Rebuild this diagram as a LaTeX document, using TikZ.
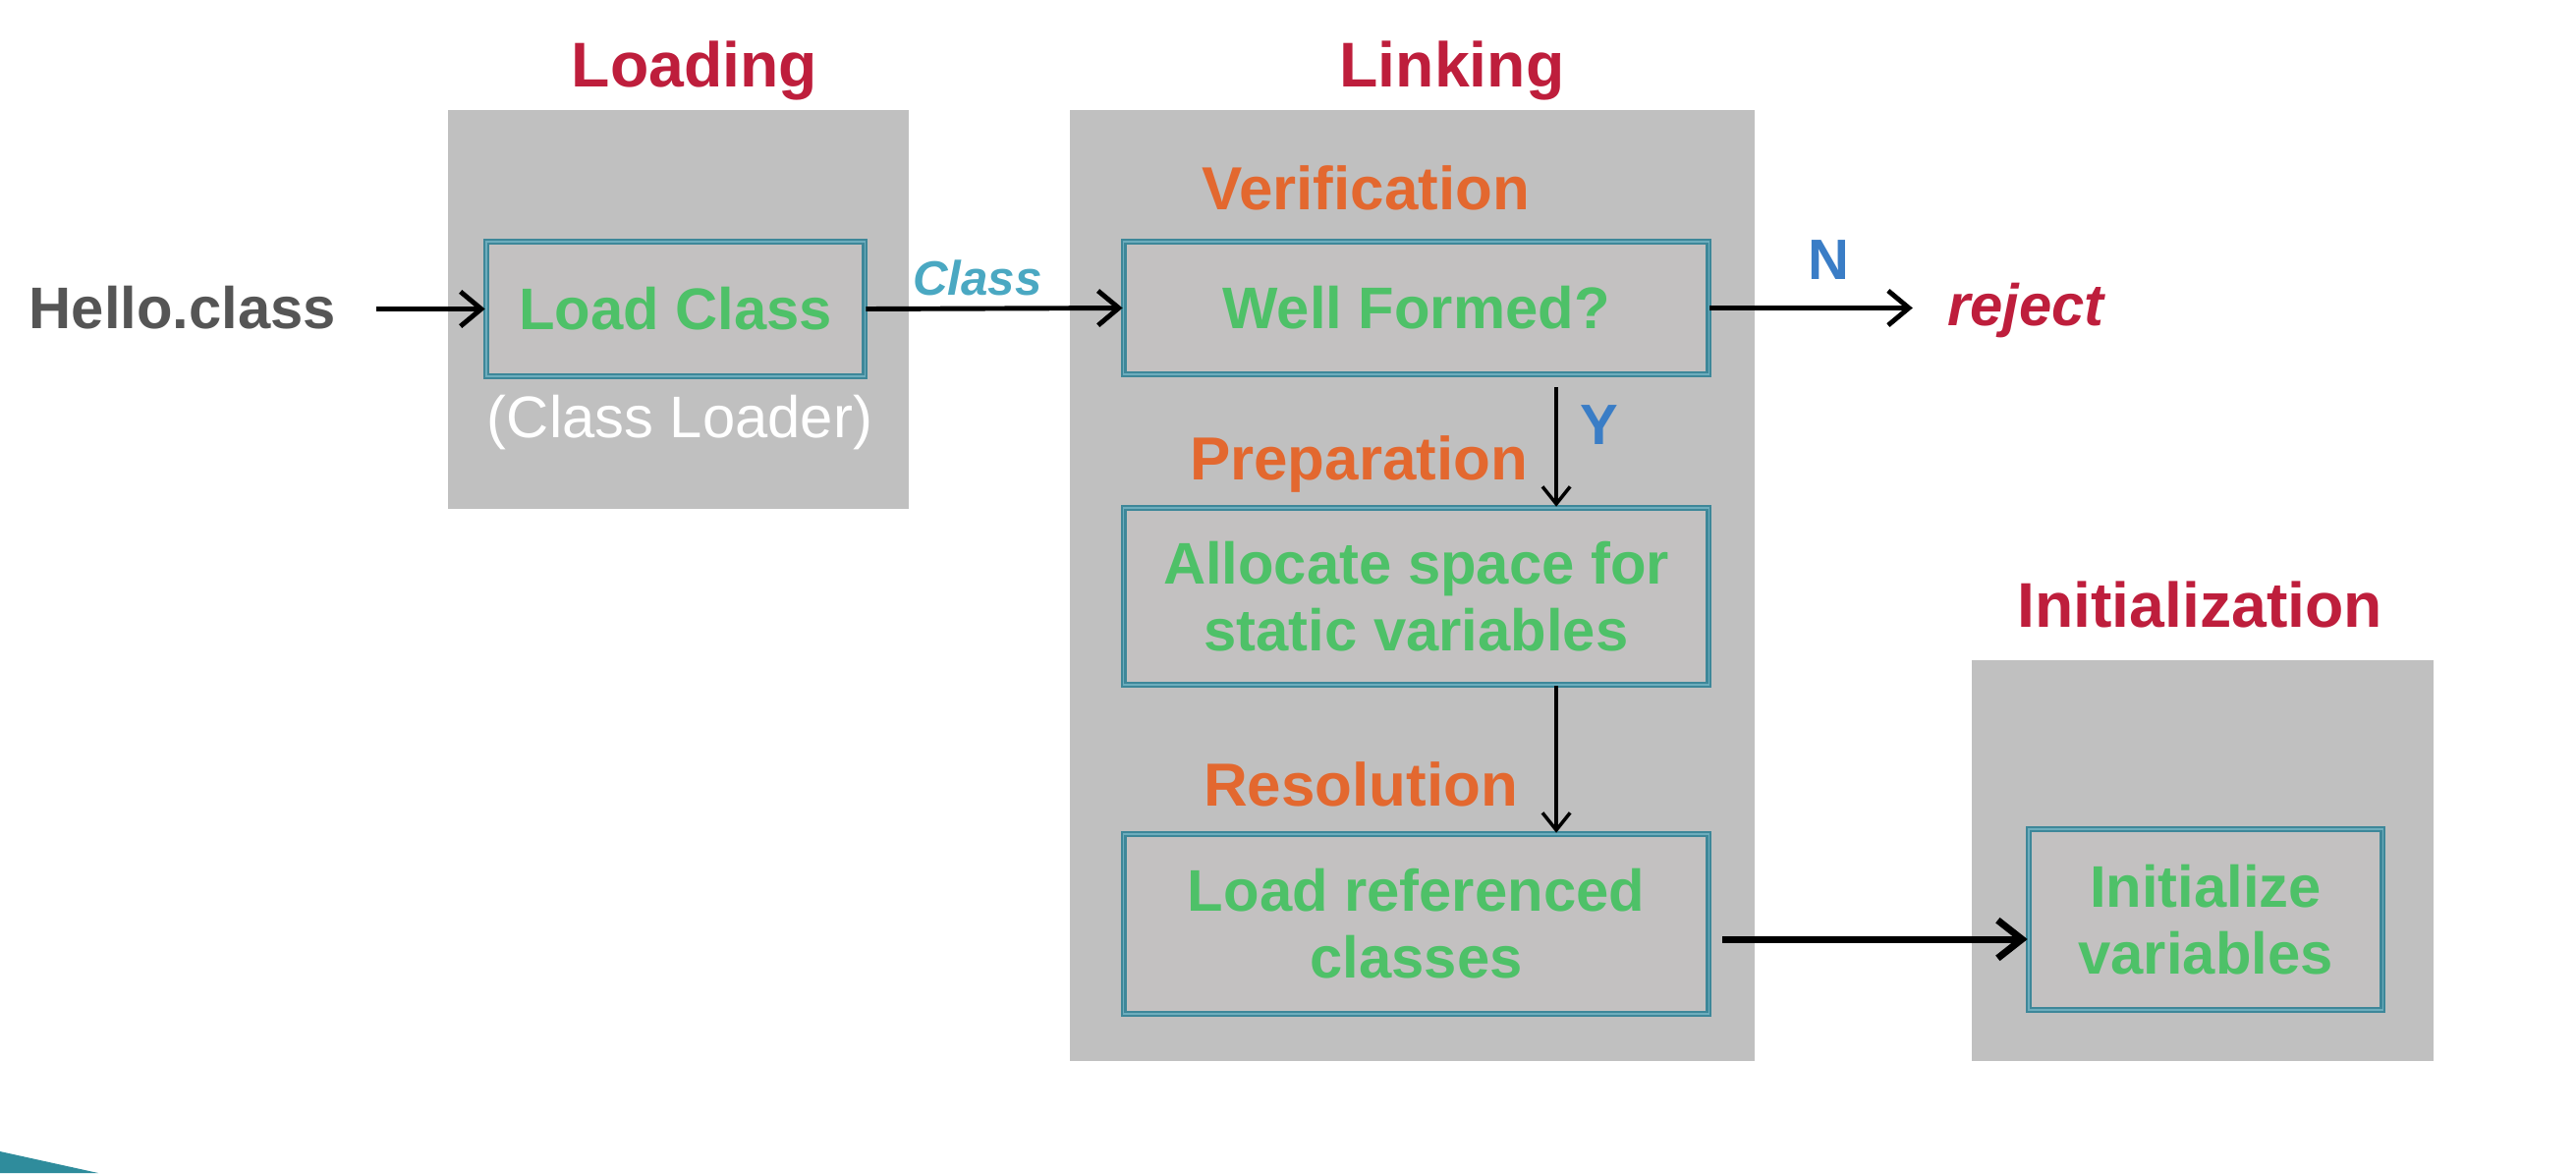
\documentclass[tikz,border=0pt]{standalone}
\usepackage{fontspec}
\setmainfont{Liberation Sans}
\usetikzlibrary{arrows.meta}
\definecolor{grayfill}{HTML}{C0C0C0}
\definecolor{boxfill}{HTML}{C3C1C1}
\definecolor{boxedge}{HTML}{3D8799}
\definecolor{boxinner}{HTML}{6DADBD}
\definecolor{titlered}{HTML}{BE1E3C}
\definecolor{stageorange}{HTML}{E3682F}
\definecolor{boxgreen}{HTML}{4EC168}
\definecolor{ynblue}{HTML}{3A7DC6}
\definecolor{classteal}{HTML}{4AA8C2}
\definecolor{hellogray}{HTML}{555555}
\definecolor{decoteal}{HTML}{2F8C9C}
\begin{document}
\begin{tikzpicture}[x=0.01cm,y=-0.01cm,
  panel/.style={fill=grayfill, draw=none, inner sep=0pt},
  stepbox/.style={fill=boxfill, draw=boxedge, double=boxinner, line width=0.7pt,
    double distance=0.35pt, text=boxgreen, align=center, inner sep=0pt,
    font=\fontsize{17}{19.4}\selectfont\bfseries},
  title/.style={text=titlered, anchor=base, font=\fontsize{18.3}{21}\selectfont\bfseries},
  stage/.style={text=stageorange, anchor=base, font=\fontsize{17.6}{20}\selectfont\bfseries},
  yn/.style={text=ynblue, anchor=base, font=\fontsize{16.5}{19}\selectfont\bfseries},
  flow/.style={-{Straight Barb[length=6pt,width=10pt,line width=1.4pt]}, line width=1.4pt},
  vflow/.style={-{Straight Barb[length=5pt,width=8pt,line width=1pt]}, line width=1pt},
  thickflow/.style={-{Straight Barb[length=7pt,width=11pt,line width=2pt]}, line width=2pt},
]
\useasboundingbox (0,0) rectangle (2622,1194);
\fill[white] (0,0) rectangle (2622,1194);

% panels
\node[panel, minimum width=4.69cm, minimum height=4.06cm] (loadpanel) at (690.5,315) {};
\node[panel, minimum width=6.97cm, minimum height=9.68cm] (linkpanel) at (1437.5,596) {};
\node[panel, minimum width=4.70cm, minimum height=4.08cm] (initpanel) at (2242,876) {};

% titles
\node[title] (loadtitle) at (707,89) {Loading};
\node[title] (linktitle) at (1478,89) {Linking};
\node[title] (inittitle) at (2239,638) {Initialization};

% stage labels
\node[stage] (verif) at (1390,213) {Verification};
\node[stage] (prep) at (1383,488) {Preparation};
\node[stage] (resol) at (1385,820) {Resolution};

% boxes
\node[stepbox, minimum width=3.85cm, minimum height=1.37cm] (loadclass) at (687.5,314.5) {Load Class};
\node[stepbox, minimum width=5.95cm, minimum height=1.35cm] (wellformed) at (1441.5,313.5) {Well Formed?};
\node[stepbox, minimum width=5.95cm, minimum height=1.80cm] (allocate) at (1441.5,607) {Allocate space for\\static variables};
\node[stepbox, minimum width=5.95cm, minimum height=1.83cm] (loadref) at (1441.5,940.5) {Load referenced\\classes};
\node[stepbox, minimum width=3.60cm, minimum height=1.84cm] (initvars) at (2245,936) {Initialize\\variables};

% other texts
\node[anchor=base, text=white, font=\fontsize{17}{19}\selectfont] (classloader) at (692,445) {(Class Loader)};
\node[anchor=base, text=hellogray, font=\fontsize{17}{19}\selectfont\bfseries] (hello) at (186,334) {Hello.class};
\node[anchor=base, text=classteal, font=\fontsize{14}{16}\selectfont\bfseries\itshape] (classlbl) at (995,300) {Class};
\node[anchor=base, text=titlered, font=\fontsize{17}{19}\selectfont\bfseries\itshape] (reject) at (2062,331) {reject};
\node[yn] (nlbl) at (1861,284) {N};
\node[yn] (ylbl) at (1628,452) {Y};

% connectors
\path (hello.east |- loadclass.west) ++(28,0) coordinate (hellostart);
\draw[flow] (hellostart) -- (loadclass.west);
\draw[flow] (loadclass.east) -- (wellformed.west);
\draw[flow, shorten >=0.23cm] (wellformed.east) -- (wellformed.east -| reject.west);
\draw[vflow, shorten <=0.12cm] ([xshift=1.425cm]wellformed.south) -- ([xshift=1.425cm]allocate.north);
\draw[vflow] ([xshift=1.425cm]allocate.south) -- ([xshift=1.425cm]loadref.north);
\draw[thickflow, shorten <=0.13cm] ([yshift=-0.155cm]loadref.east) -- ([yshift=-0.155cm]loadref.east -| initvars.west);

% slide decoration
\fill[decoteal] (0,1172) -- (100,1194) -- (0,1194) -- cycle;
\end{tikzpicture}
\end{document}
